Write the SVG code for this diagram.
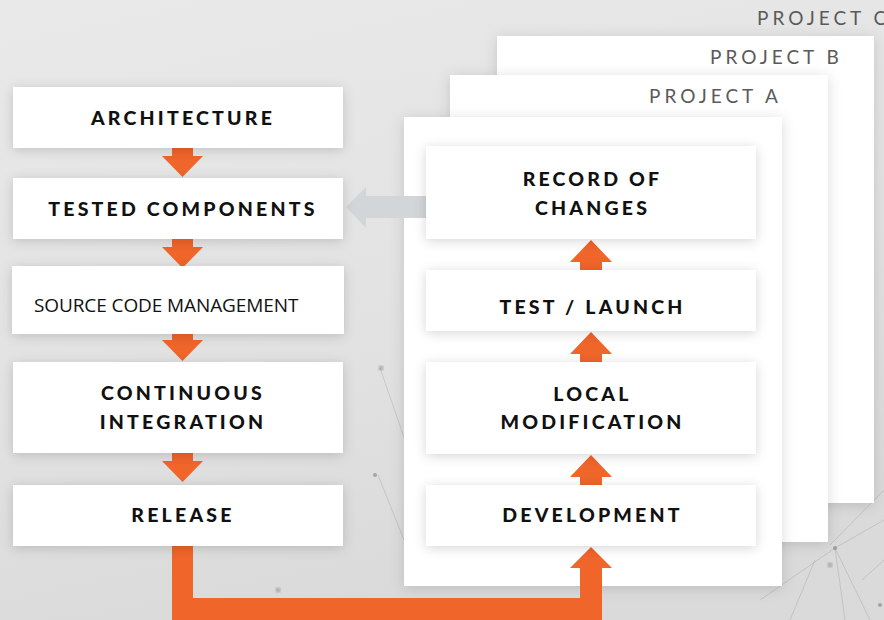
<svg xmlns="http://www.w3.org/2000/svg" width="884" height="620" viewBox="0 0 884 620">
  <defs>
    <linearGradient id="bg" x1="0" y1="0" x2="0.3" y2="1">
      <stop offset="0" stop-color="#e9e9e9"/>
      <stop offset="0.6" stop-color="#e2e2e2"/>
      <stop offset="1" stop-color="#dadada"/>
    </linearGradient>
    <filter id="sh" x="-20%" y="-40%" width="140%" height="180%">
      <feDropShadow dx="0" dy="2" stdDeviation="6" flood-color="#000" flood-opacity="0.16"/>
    </filter>
    <filter id="psh" x="-20%" y="-20%" width="140%" height="140%">
      <feDropShadow dx="0" dy="2" stdDeviation="7" flood-color="#000" flood-opacity="0.14"/>
    </filter>
    <filter id="soft"><feGaussianBlur stdDeviation="1.5"/></filter>
  </defs>
  <style>
    .box { fill: #ffffff; filter: url(#sh); }
    .panel { fill: #ffffff; filter: url(#psh); }
    .lbl { font-family: Lato, "Liberation Sans", sans-serif; font-weight: 900; font-size: 19.5px; letter-spacing: 3.2px; fill: #111111; text-anchor: middle; }
    .plain { font-family: "Open Sans", "Liberation Sans", sans-serif; font-size: 19px; letter-spacing: -0.1px; fill: #111111; }
    .proj { font-family: Lato, "Liberation Sans", sans-serif; font-weight: 400; font-size: 19px; letter-spacing: 4px; fill: #5a5a5a; }
    .arr { fill: #f0652a; }
    .net { stroke: #9a9a9a; stroke-width: 0.8; fill: none; opacity: 0.45; }
    .dot { fill: #777777; opacity: 0.55; }
  </style>

  <rect width="884" height="620" fill="url(#bg)"/>

  <g id="network">
    <path class="net" d="M380 368 L405 440 M378 475 L404 540 M835 548 L884 520 M835 548 L870 620 M835 548 L845 620 M835 548 L760 600 M830 545 L884 490 M862 580 L884 560 M815 560 L790 620"/>
    <circle class="dot" cx="381" cy="368" r="2.5" filter="url(#soft)"/>
    <circle class="dot" cx="375" cy="475" r="2"/>
    <circle class="dot" cx="835" cy="548" r="2"/>
    <circle class="dot" cx="830" cy="565" r="2.5" filter="url(#soft)"/>
    <circle class="dot" cx="880" cy="605" r="2"/>
    <circle class="dot" cx="278" cy="590" r="2.5" filter="url(#soft)"/>
  </g>

  <g id="project-c">
    <text class="proj" x="757" y="25">PROJECT C</text>
  </g>
  <g id="project-b">
    <rect class="panel" x="497" y="36" width="377" height="467"/>
    <text class="proj" x="710" y="64">PROJECT B</text>
  </g>
  <g id="project-a">
    <rect class="panel" x="450" y="75" width="378" height="467"/>
    <text class="proj" x="649" y="103">PROJECT A</text>
  </g>
  <g id="project-front">
    <rect class="panel" x="404" y="117" width="378" height="469"/>
  </g>

  <g id="connectors">
    <!-- left column down arrows -->
    <path class="arr" d="M172 148 H193 V156 H203 L182.5 177 L162 156 H172 Z"/>
    <path class="arr" d="M172 239 H193 V247 H203 L182.5 268 L162 247 H172 Z"/>
    <path class="arr" d="M172 334 H193 V340 H203 L182.5 361 L162 340 H172 Z"/>
    <path class="arr" d="M172 453 H193 V461 H203 L182.5 482 L162 461 H172 Z"/>
    <!-- right column up arrows -->
    <path class="arr" d="M580 270 H602 V262 H612 L591 240 L570 262 H580 Z"/>
    <path class="arr" d="M580 362 H602 V354 H612 L591 332 L570 354 H580 Z"/>
    <path class="arr" d="M580 485 H602 V477 H612 L591 455 L570 477 H580 Z"/>
    <!-- release to development -->
    <path class="arr" d="M172 546 H193 V598 H580 V568 H570 L591 547 L612 568 H602 V620 H172 Z"/>
    <!-- record of changes to tested components -->
    <path fill="#d3d6d9" d="M426 196 V218 H366 V228 L346 207 L366 187 V196 Z"/>
  </g>

  <g id="architecture">
    <rect class="box" x="13" y="87" width="330" height="61"/>
    <text class="lbl" x="183" y="125">ARCHITECTURE</text>
  </g>
  <g id="tested-components">
    <rect class="box" x="13" y="178" width="330" height="61"/>
    <text class="lbl" x="183" y="216">TESTED COMPONENTS</text>
  </g>
  <g id="source-code-management">
    <rect class="box" x="12" y="266" width="332" height="68"/>
    <text class="plain" x="34" y="312">SOURCE CODE MANAGEMENT</text>
  </g>
  <g id="continuous-integration">
    <rect class="box" x="13" y="362" width="330" height="91"/>
    <text class="lbl" x="183" y="400">CONTINUOUS</text>
    <text class="lbl" x="183" y="429">INTEGRATION</text>
  </g>
  <g id="release">
    <rect class="box" x="13" y="485" width="330" height="61"/>
    <text class="lbl" x="183" y="522">RELEASE</text>
  </g>

  <g id="record-of-changes">
    <rect class="box" x="426" y="146" width="330" height="93"/>
    <text class="lbl" x="592.5" y="186">RECORD OF</text>
    <text class="lbl" x="592.5" y="215">CHANGES</text>
  </g>
  <g id="test-launch">
    <rect class="box" x="426" y="270" width="330" height="61"/>
    <text class="lbl" x="592.5" y="314">TEST / LAUNCH</text>
  </g>
  <g id="local-modification">
    <rect class="box" x="426" y="362" width="330" height="92"/>
    <text class="lbl" x="592.5" y="401">LOCAL</text>
    <text class="lbl" x="592.5" y="429">MODIFICATION</text>
  </g>
  <g id="development">
    <rect class="box" x="426" y="485" width="330" height="61"/>
    <text class="lbl" x="592.5" y="522">DEVELOPMENT</text>
  </g>
</svg>
